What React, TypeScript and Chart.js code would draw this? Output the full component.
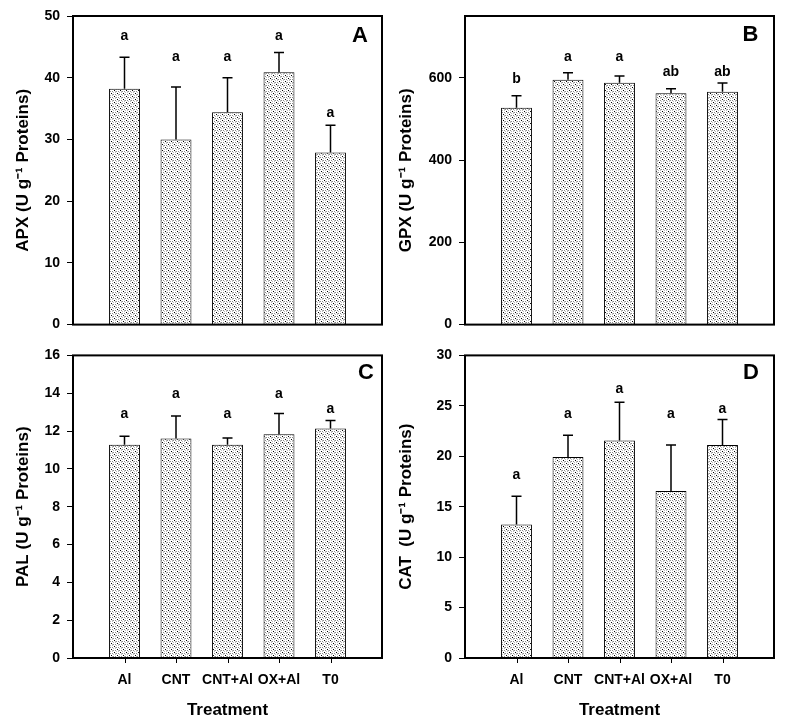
import React, { useEffect, useRef } from 'react';
import { Chart, registerables } from 'chart.js';

Chart.register(...registerables);

// ---------- data ----------
const categories = ['Al', 'CNT', 'CNT+Al', 'OX+Al', 'T0'];

const apxMeans = [38.2, 30.0, 34.4, 40.9, 27.9];
const apxErrors = [5.1, 8.5, 5.6, 3.2, 4.4];
const apxLetters = ['a', 'a', 'a', 'a', 'a'];
const apxLetterLevels = [46.1, 42.7, 42.7, 46.1, 33.6];
const apxAxis = { min: 0, max: 50, step: 10 };

const gpxMeans = [527, 595, 588, 562, 566];
const gpxErrors = [29, 17, 16, 11, 21];
const gpxLetters = ['b', 'a', 'a', 'ab', 'ab'];
const gpxLetterLevels = [588, 640, 640, 604, 604];
const gpxAxis = { min: 0, max: 750, step: 200 };

const palMeans = [11.27, 11.6, 11.27, 11.83, 12.13];
const palErrors = [0.46, 1.2, 0.36, 1.1, 0.43];
const palLetters = ['a', 'a', 'a', 'a', 'a'];
const palLetterLevels = [12.69, 13.73, 12.69, 13.73, 12.98];
const palAxis = { min: 0, max: 16, step: 2 };

const catMeans = [13.24, 19.93, 21.56, 16.55, 21.12];
const catErrors = [2.8, 2.15, 3.8, 4.57, 2.53];
const catLetters = ['a', 'a', 'a', 'a', 'a'];
const catLetterLevels = [17.77, 23.78, 26.23, 23.78, 24.3];
const catAxis = { min: 0, max: 30, step: 5 };

const FONT = "'Liberation Sans', Arial, Helvetica, sans-serif";
Chart.defaults.font.family = FONT;
Chart.defaults.color = '#000';

type PanelCfg = {
  left: number; top: number; width: number; height: number;
  yWidth: number; padTop: number; padRight: number; padBottom: number;
  showX: boolean; xHeight: number; titlePad: number;
  letter: string; letterDx: number; letterDy: number;
  yTitle: string;
  means: number[]; errors: number[]; letters: string[]; letterLevels: number[];
  axis: { min: number; max: number; step: number };
};

const panels: PanelCfg[] = [
  {
    left: 0, top: 0, width: 395, height: 340, yWidth: 73, padTop: 16, padRight: 13, padBottom: 14,
    showX: false, xHeight: 0, titlePad: 13, letter: 'A', letterDx: 22, letterDy: 20,
    yTitle: 'APX (U g\u207B\u00B9 Proteins)',
    means: apxMeans, errors: apxErrors, letters: apxLetters, letterLevels: apxLetterLevels, axis: apxAxis,
  },
  {
    left: 395, top: 0, width: 395, height: 340, yWidth: 70, padTop: 16, padRight: 16, padBottom: 14,
    showX: false, xHeight: 0, titlePad: 1, letter: 'B', letterDx: 23.5, letterDy: 19,
    yTitle: 'GPX (U g\u207B\u00B9 Proteins)',
    means: gpxMeans, errors: gpxErrors, letters: gpxLetters, letterLevels: gpxLetterLevels, axis: gpxAxis,
  },
  {
    left: 0, top: 340, width: 395, height: 385, yWidth: 73, padTop: 8, padRight: 13, padBottom: 0,
    showX: true, xHeight: 67, titlePad: 13, letter: 'C', letterDx: 16, letterDy: 18,
    yTitle: 'PAL (U g\u207B\u00B9 Proteins)',
    means: palMeans, errors: palErrors, letters: palLetters, letterLevels: palLetterLevels, axis: palAxis,
  },
  {
    left: 395, top: 340, width: 395, height: 385, yWidth: 70, padTop: 8, padRight: 16, padBottom: 0,
    showX: true, xHeight: 67, titlePad: 1, letter: 'D', letterDx: 23, letterDy: 18,
    yTitle: 'CAT  (U g\u207B\u00B9 Proteins)',
    means: catMeans, errors: catErrors, letters: catLetters, letterLevels: catLetterLevels, axis: catAxis,
  },
];

function makePattern(ctx: CanvasRenderingContext2D): CanvasPattern | string {
  const c = document.createElement('canvas');
  c.width = 6;
  c.height = 6;
  const g = c.getContext('2d');
  if (!g) return '#ddd';
  g.fillStyle = '#fff';
  g.fillRect(0, 0, 6, 6);
  g.fillStyle = '#8c8c8c';
  [[2, 1], [5, 4], [1, 4], [4, 1]].forEach(([x, y]) => g.fillRect(x, y, 1, 1));
  g.fillStyle = '#bdbdbd';
  [[1, 1], [4, 4], [2, 5], [5, 2], [1, 2], [4, 5]].forEach(([x, y]) => g.fillRect(x, y, 1, 1));
  g.fillStyle = '#000';
  g.fillRect(0, 0, 1, 1);
  g.fillRect(3, 3, 1, 1);
  return ctx.createPattern(c, 'repeat') || '#ddd';
}

function Panel({ cfg }: { cfg: PanelCfg }) {
  const ref = useRef<HTMLCanvasElement>(null);
  useEffect(() => {
    const canvas = ref.current;
    if (!canvas) return;
    const ctx = canvas.getContext('2d');
    if (!ctx) return;
    const pattern = makePattern(ctx);
    const labels = ['', ...categories, ''];
    const values = [null, ...cfg.means, null];

    const overlay = {
      id: 'overlay',
      afterDatasetsDraw(chart: any) {
        const c = chart.ctx;
        const meta = chart.getDatasetMeta(0);
        const yS = chart.scales.y;
        c.save();
        c.strokeStyle = '#000';
        c.lineWidth = 1.5;
        c.fillStyle = '#000';
        c.font = `bold 14px ${FONT}`;
        c.textAlign = 'center';
        c.textBaseline = 'alphabetic';
        cfg.means.forEach((m, i) => {
          const el = meta.data[i + 1];
          if (!el) return;
          const x = el.x;
          const yb = yS.getPixelForValue(m);
          const yt = yS.getPixelForValue(m + cfg.errors[i]);
          c.beginPath();
          c.moveTo(x, yb);
          c.lineTo(x, yt);
          c.moveTo(x - 5, yt);
          c.lineTo(x + 5, yt);
          c.stroke();
          c.fillText(cfg.letters[i], x, yS.getPixelForValue(cfg.letterLevels[i]));
        });
        c.restore();
      },
      afterDraw(chart: any) {
        const c = chart.ctx;
        const a = chart.chartArea;
        const meta = chart.getDatasetMeta(0);
        c.save();
        c.strokeStyle = '#000';
        c.lineWidth = 2;
        c.strokeRect(a.left, a.top, a.right - a.left, a.bottom - a.top);
        if (cfg.showX) {
          c.fillStyle = '#000';
          cfg.means.forEach((_, i) => {
            const el = meta.data[i + 1];
            if (!el) return;
            c.fillRect(Math.round(el.x), a.bottom, 1, 5);
          });
        }
        c.fillStyle = '#000';
        c.font = `bold 22px ${FONT}`;
        c.textAlign = 'center';
        c.textBaseline = 'middle';
        c.fillText(cfg.letter, a.right - cfg.letterDx, a.top + cfg.letterDy);
        c.restore();
      },
    };

    const chart = new Chart(canvas, {
      type: 'bar',
      data: {
        labels,
        datasets: [
          {
            data: values as any,
            backgroundColor: pattern as any,
            borderColor: '#000',
            borderWidth: 1,
            categoryPercentage: 1,
            barPercentage: 0.6,
          },
        ],
      },
      options: {
        animation: false,
        responsive: true,
        maintainAspectRatio: false,
        layout: { padding: { top: cfg.padTop, right: cfg.padRight, bottom: cfg.padBottom, left: 0 } },
        plugins: { legend: { display: false }, tooltip: { enabled: false } },
        scales: {
          x: {
            type: 'category',
            offset: false,
            display: cfg.showX,
            afterFit: (s: any) => { if (cfg.showX) s.height = cfg.xHeight; },
            grid: {
              display: false,
              drawOnChartArea: false,
              drawTicks: true,
              tickLength: 4,
            },
            border: { display: false },
            ticks: {
              autoSkip: false,
              maxRotation: 0,
              minRotation: 0,
              padding: 10,
              color: '#000',
              font: { size: 14, weight: 'bold' },
            },
            title: {
              display: cfg.showX,
              text: 'Treatment',
              color: '#000',
              font: { size: 17, weight: 'bold' },
              padding: { top: 0, bottom: 4 },
            },
          },
          y: {
            type: 'linear',
            min: cfg.axis.min,
            max: cfg.axis.max,
            afterFit: (s: any) => { s.width = cfg.yWidth; },
            grid: {
              display: true,
              drawOnChartArea: false,
              drawTicks: true,
              tickLength: 6,
              tickColor: '#000',
              lineWidth: 1,
            },
            border: { display: false },
            ticks: {
              stepSize: cfg.axis.step,
              includeBounds: false,
              padding: 7,
              color: '#000',
              font: { size: 14, weight: 'bold' },
            },
            title: {
              display: true,
              text: cfg.yTitle,
              color: '#000',
              font: { size: 17, weight: 'bold' },
              padding: { top: cfg.titlePad, bottom: 0 },
            },
          },
        },
      },
      plugins: [overlay],
    } as any);
    return () => chart.destroy();
  }, [cfg]);

  return (
    <div style={{ position: 'absolute', left: cfg.left, top: cfg.top, width: cfg.width, height: cfg.height }}>
      <canvas ref={ref} />
    </div>
  );
}

export default function App() {
  return (
    <div style={{ position: 'fixed', left: 0, top: 0, width: 790, height: 725, background: '#fff' }}>
      {panels.map((p) => (
        <Panel key={p.letter} cfg={p} />
      ))}
    </div>
  );
}
